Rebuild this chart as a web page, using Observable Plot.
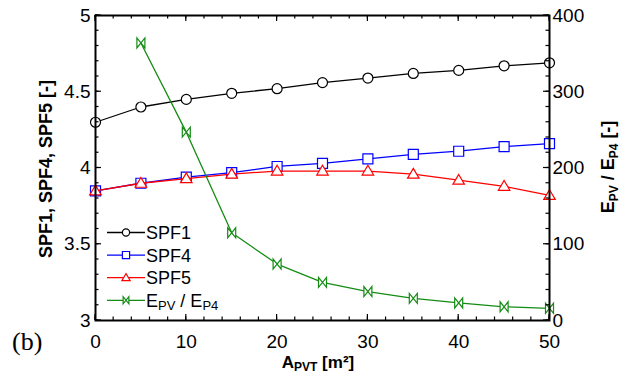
<!DOCTYPE html>
<html>
<head>
<meta charset="utf-8">
<script src="https://cdn.jsdelivr.net/npm/d3@7"></script>
<script src="https://cdn.jsdelivr.net/npm/@observablehq/plot@0.6"></script>
<style>
  html, body { margin: 0; padding: 0; background: #fff; }
  #chart { position: relative; width: 622px; height: 377px; }
  svg { font-family: "Liberation Sans", Arial, sans-serif; }
</style>
</head>
<body>
<div id="chart"></div>
<script>
// Collector area A_PVT [m²]
const area = [0, 5, 10, 15, 20, 25, 30, 35, 40, 45, 50];
// Seasonal performance factors (left axis)
const spf1 = [4.30, 4.40, 4.45, 4.49, 4.52, 4.56, 4.59, 4.62, 4.64, 4.67, 4.69];
const spf4 = [3.85, 3.90, 3.94, 3.97, 4.01, 4.03, 4.06, 4.09, 4.11, 4.14, 4.16];
const spf5 = [3.85, 3.90, 3.93, 3.96, 3.98, 3.98, 3.98, 3.96, 3.92, 3.88, 3.82];
// Energy ratio E_PV / E_P4 (right axis), from 5 m² on
const ratioArea = [5, 10, 15, 20, 25, 30, 35, 40, 45, 50];
const ratio = [364, 247, 115, 74, 50, 38, 29, 23, 18, 16];

// Tick values
const xTicks = [0, 10, 20, 30, 40, 50];
const yTicks = [3, 3.5, 4, 4.5, 5];
const rightTicks = [0, 100, 200, 300, 400];

// right axis is drawn on the left scale: 0..400 -> 3..5
const toLeft = (v) => 3 + v / 200;

const colors = {spf1: "#000000", spf4: "#0000ff", spf5: "#ff0000", ratio: "#148c14"};

// marker shapes
const sym = (f) => ({draw(ctx, size) { f(ctx, Math.sqrt(size / Math.PI)); }});
const square = sym((c, r) => { c.moveTo(-r, -r); c.lineTo(r, -r); c.lineTo(r, r); c.lineTo(-r, r); c.closePath(); });
const triangle = sym((c, r) => { c.moveTo(0, -1.15 * r); c.lineTo(1.15 * r, 0.8 * r); c.lineTo(-1.15 * r, 0.8 * r); c.closePath(); });
const bowtie = sym((c, r) => { const w = 0.8 * r; c.moveTo(-w, -r); c.lineTo(-w, r); c.lineTo(w, -r); c.lineTo(w, r); c.closePath(); });

const rows = (ys) => area.map((a, i) => ({a, v: ys[i]}));
const ratioRows = ratioArea.map((a, i) => ({a, v: toLeft(ratio[i])}));

const series = [
  {key: "spf1", data: rows(spf1), symbol: "circle", r: 5},
  {key: "spf4", data: rows(spf4), symbol: square, r: 5},
  {key: "spf5", data: rows(spf5), symbol: triangle, r: 5},
  {key: "ratio", data: ratioRows, symbol: bowtie, r: 5}
];

const W = 622, H = 377;
const M = {left: 95, right: 73, top: 15, bottom: 57};

const minorY = d3.range(0, 21).map((i) => 3 + i * 0.1);
const minorX = d3.range(0, 26).map((i) => i * 2);

const marks = [];
// tick labels
marks.push(Plot.axisY({anchor: "left", ticks: yTicks, tickSize: 0, tickPadding: 5, tickFormat: (d) => String(d), fontSize: 19, label: null}));
marks.push(Plot.axisY({anchor: "right", ticks: rightTicks.map(toLeft), tickSize: 0, tickPadding: 3, tickFormat: (d) => String(Math.round((d - 3) * 200)), fontSize: 19, label: null}));
marks.push(Plot.axisX({anchor: "bottom", ticks: xTicks, tickSize: 0, tickPadding: 14, tickFormat: (d) => String(d), fontSize: 19, label: null}));

for (const s of series) {
  marks.push(Plot.line(s.data, {x: "a", y: "v", stroke: colors[s.key], strokeWidth: 1.3}));
  marks.push(Plot.dot(s.data, {x: "a", y: "v", symbol: s.symbol, r: s.r, stroke: colors[s.key], fill: "white", strokeWidth: 1.2}));
}
marks.push(Plot.frame({stroke: "black", strokeWidth: 2}));

const plot = Plot.plot({
  width: W,
  height: H,
  marginLeft: M.left,
  marginRight: M.right,
  marginTop: M.top,
  marginBottom: M.bottom,
  x: {domain: [0, 50]},
  y: {domain: [3, 5]},
  style: {fontFamily: "'Liberation Sans', Arial, sans-serif", color: "black", background: "white"},
  marks
});

const svg = d3.select(plot);
const font = "'Liberation Sans', Arial, sans-serif";
const xs = plot.scale("x"), ys = plot.scale("y");
const [x0, x1] = xs.range, [y0, y1] = ys.range; // y0 bottom, y1 top

// inward tick marks on all four sides
const tickG = svg.append("g").attr("stroke", "black").attr("stroke-width", 1.2);
for (const [ty, tx, len] of [[minorY, minorX, 3.5], [yTicks, xTicks, 6]]) {
  for (const v of ty) {
    const y = ys.apply(v);
    tickG.append("line").attr("x1", x0).attr("x2", x0 + len).attr("y1", y).attr("y2", y);
    tickG.append("line").attr("x1", x1).attr("x2", x1 - len).attr("y1", y).attr("y2", y);
  }
  for (const v of tx) {
    const x = xs.apply(v);
    tickG.append("line").attr("x1", x).attr("x2", x).attr("y1", y0).attr("y2", y0 - len);
    tickG.append("line").attr("x1", x).attr("x2", x).attr("y1", y1).attr("y2", y1 + len);
  }
}

// axis titles
svg.append("text")
  .attr("transform", "translate(52,169) rotate(-90)")
  .attr("text-anchor", "middle").attr("font-family", font)
  .attr("font-size", 18).attr("font-weight", "bold").attr("fill", "black")
  .text("SPF1, SPF4, SPF5 [-]");

const rightTitle = svg.append("text")
  .attr("transform", "translate(614,167) rotate(-90)")
  .attr("text-anchor", "middle").attr("font-family", font)
  .attr("font-size", 18).attr("font-weight", "bold").attr("fill", "black");
rightTitle.append("tspan").text("E");
rightTitle.append("tspan").attr("font-size", 12).attr("dy", 4).text("PV");
rightTitle.append("tspan").attr("dy", -4).text(" / E");
rightTitle.append("tspan").attr("font-size", 12).attr("dy", 4).text("P4");
rightTitle.append("tspan").attr("dy", -4).text(" [-]");

const bottomTitle = svg.append("text")
  .attr("x", 318).attr("y", 368)
  .attr("text-anchor", "middle").attr("font-family", font)
  .attr("font-size", 17).attr("font-weight", "bold").attr("fill", "black");
bottomTitle.append("tspan").text("A");
bottomTitle.append("tspan").attr("font-size", 12).attr("dy", 3).text("PVT");
bottomTitle.append("tspan").attr("dy", -3).text(" [m²]");

svg.append("text")
  .attr("x", 12).attr("y", 350)
  .attr("text-anchor", "start")
  .attr("font-family", "'Liberation Serif', 'Times New Roman', serif")
  .attr("font-size", 26).attr("fill", "black")
  .text("(b)");

// legend
const legend = [
  {key: "spf1", type: d3.symbolCircle, label: ["SPF1"]},
  {key: "spf4", type: square, label: ["SPF4"]},
  {key: "spf5", type: triangle, label: ["SPF5"]},
  {key: "ratio", type: bowtie, label: ["E", "PV", " / E", "P4"]}
];
const ly0 = 232.5, lstep = 22.6;
legend.forEach((l, i) => {
  const y = ly0 + i * lstep;
  const g = svg.append("g");
  g.append("line").attr("x1", 107).attr("x2", 145).attr("y1", y).attr("y2", y)
    .attr("stroke", colors[l.key]).attr("stroke-width", 1.3);
  g.append("path").attr("transform", `translate(126,${y})`)
    .attr("d", d3.symbol(l.type, Math.PI * 3.6 * 3.6)())
    .attr("fill", "white").attr("stroke", colors[l.key]).attr("stroke-width", 1.2);
  const t = g.append("text").attr("x", 146).attr("y", y).attr("dy", "0.36em")
    .attr("text-anchor", "start")
    .attr("font-family", font).attr("font-size", 18).attr("fill", "black");
  l.label.forEach((part, j) => {
    const sub = j % 2 === 1;
    t.append("tspan").attr("font-size", sub ? 13 : 18)
      .attr("dy", j === 0 ? null : (sub ? 3 : -3)).text(part);
  });
});

document.getElementById("chart").appendChild(plot);
</script>
</body>
</html>
